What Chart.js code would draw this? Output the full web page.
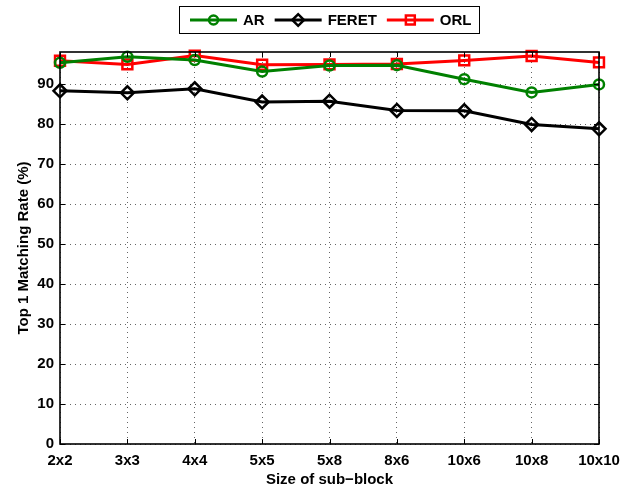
<!DOCTYPE html>
<html>
<head>
<meta charset="utf-8">
<title>Top 1 Matching Rate</title>
<script src="https://cdn.jsdelivr.net/npm/chart.js@4.4.1/dist/chart.umd.min.js"></script>
<style>
    html, body { margin: 0; padding: 0; background: #fff; }
    #wrap { width: 644px; height: 489px; }
</style>
</head>
<body>
<div id="wrap"><canvas id="rateChart" width="644" height="489"></canvas></div>
<script>
// values
const blockSizes = ['2x2', '3x3', '4x4', '5x5', '5x8', '8x6', '10x6', '10x8', '10x10'];
const arRates    = [95.3, 96.8, 96.0, 93.1, 94.6, 94.7, 91.2, 87.9, 89.9];
const feretRates = [88.3, 87.8, 88.8, 85.5, 85.7, 83.4, 83.3, 79.9, 78.8];
const orlRates   = [95.8, 94.9, 97.1, 94.8, 94.9, 95.0, 95.9, 97.0, 95.4];
const yTicks     = [0, 10, 20, 30, 40, 50, 60, 70, 80, 90];

const FONT = '"Liberation Sans", Arial, Helvetica, sans-serif';

// box round the plot area + inward ticks on all four sides (matlab look)
const boxPlugin = {
    id: 'boxPlugin',
    afterDraw(chart) {
        const ctx = chart.ctx;
        const a = chart.chartArea;
        const xs = chart.scales.x, ys = chart.scales.y;
        const len = 5;
        ctx.save();
        ctx.strokeStyle = '#000';
        ctx.lineWidth = 1;
        ctx.beginPath();
        xs.ticks.forEach((t, i) => {
            const px = Math.round(xs.getPixelForTick(i)) + 0.5;
            ctx.moveTo(px, a.bottom); ctx.lineTo(px, a.bottom - len);
            ctx.moveTo(px, a.top); ctx.lineTo(px, a.top + len);
        });
        ys.ticks.forEach(t => {
            const py = Math.round(ys.getPixelForValue(t.value)) + 0.5;
            ctx.moveTo(a.left, py); ctx.lineTo(a.left + len, py);
            ctx.moveTo(a.right, py); ctx.lineTo(a.right - len, py);
        });
        ctx.stroke();
        ctx.lineWidth = 1.6;
        ctx.strokeRect(a.left, a.top, a.right - a.left, a.bottom - a.top);
        ctx.restore();
    }
};

// legend drawn in a framed box above the plot
const legendBox = {
    id: 'legendBox',
    afterDraw(chart) {
        const ctx = chart.ctx;
        const box = { left: 179, top: 6, right: 479, bottom: 33 };
        const midY = (box.top + box.bottom) / 2 + 0.5;
        ctx.save();
        ctx.fillStyle = '#fff';
        ctx.fillRect(box.left, box.top, box.right - box.left, box.bottom - box.top);
        ctx.strokeStyle = '#000';
        ctx.lineWidth = 1;
        ctx.strokeRect(box.left + 0.5, box.top + 0.5, box.right - box.left, box.bottom - box.top);
        ctx.font = 'bold 15px ' + FONT;
        ctx.textBaseline = 'middle';
        let x = 190;
        chart.data.datasets.forEach(ds => {
            ctx.strokeStyle = ds.borderColor;
            ctx.lineWidth = ds.borderWidth;
            ctx.beginPath();
            ctx.moveTo(x, midY);
            ctx.lineTo(x + 47, midY);
            ctx.stroke();
            // hollow marker, line shows through
            ctx.lineWidth = ds.pointBorderWidth;
            ctx.fillStyle = 'rgba(0,0,0,0)';
            Chart.helpers.drawPoint(ctx, {
                pointStyle: ds.pointStyle,
                radius: ds.pointRadius * 0.9,
                rotation: 0,
                borderWidth: ds.pointBorderWidth
            }, x + 23.5, midY);
            ctx.fillStyle = '#000';
            ctx.fillText(ds.label, x + 53, midY + 1);
            x += 53 + ctx.measureText(ds.label).width + 10;
        });
        ctx.restore();
    }
};

function makeSeries(label, data, color, style, radius) {
    return {
        label: label,
        data: data,
        borderColor: color,
        backgroundColor: 'transparent',
        borderWidth: 3,
        pointStyle: style,
        pointRadius: radius,
        pointHoverRadius: radius,
        pointBorderWidth: 2.5,
        pointBorderColor: color,
        pointBackgroundColor: 'transparent',
        tension: 0,
        clip: false
    };
}

const ctx = document.getElementById('rateChart').getContext('2d');
const rateChart = new Chart(ctx, {
    type: 'line',
    data: {
        labels: blockSizes,
        datasets: [
            makeSeries('AR', arRates, '#008000', 'circle', 5),
            makeSeries('FERET', feretRates, '#000000', 'rectRot', 6.5),
            makeSeries('ORL', orlRates, '#ff0000', 'rect', 7)
        ]
    },
    options: {
        responsive: false,
        animation: false,
        events: [],
        layout: { padding: { top: 52, right: 45, bottom: 0, left: 0 } },
        plugins: {
            legend: { display: false },
            tooltip: { enabled: false }
        },
        scales: {
            x: {
                offset: false,
                afterFit: s => { s.height = 45; },
                grid: { color: '#666', lineWidth: 1, drawTicks: false },
                border: { display: false, dash: [1, 4] },
                ticks: {
                    color: '#000', padding: 8, maxRotation: 0, autoSkip: false,
                    font: { family: FONT, size: 15, weight: 'bold' }
                },
                title: {
                    display: true, text: 'Size of sub\u2212block', color: '#000',
                    padding: { top: 0, bottom: 0 },
                    font: { family: FONT, size: 15, weight: 'bold' }
                }
            },
            y: {
                min: 0,
                max: 98,
                afterFit: s => { s.width = 60; },
                afterBuildTicks: s => { s.ticks = yTicks.map(v => ({ value: v })); },
                grid: { color: '#666', lineWidth: 1, drawTicks: false },
                border: { display: false, dash: [1, 4] },
                ticks: {
                    color: '#000', padding: 6,
                    font: { family: FONT, size: 15, weight: 'bold' }
                },
                title: {
                    display: true, text: 'Top 1 Matching Rate (%)', color: '#000',
                    padding: { top: 15, bottom: 0 },
                    font: { family: FONT, size: 15, weight: 'bold' }
                }
            }
        }
    },
    plugins: [boxPlugin, legendBox]
});
</script>
</body>
</html>
